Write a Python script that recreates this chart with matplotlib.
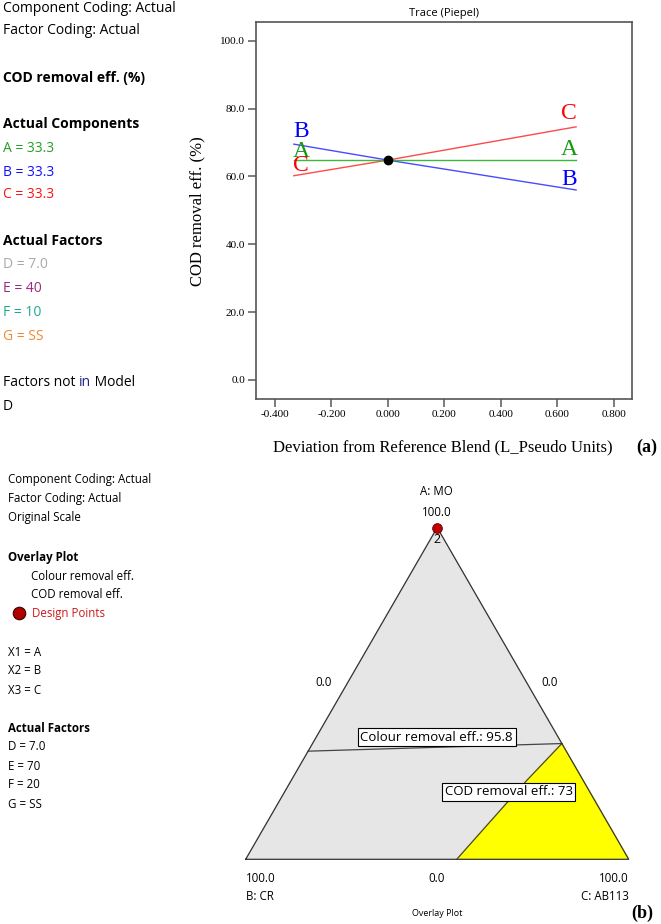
import numpy as np
import matplotlib
matplotlib.use("Agg")
import matplotlib.pyplot as plt

# ---- data ----
dev_x = [-0.333, 0.0, 0.667]
trace_A = [64.7, 64.7, 64.7]
trace_B = [69.5, 64.8, 56.0]
trace_C = [60.2, 64.8, 74.6]
ref_blend = [0.0, 64.8]
y_ticks = [0.0, 20.0, 40.0, 60.0, 80.0, 100.0]
x_ticks = [-0.4, -0.2, 0.0, 0.2, 0.4, 0.6, 0.8]

# ternary contours (fractions of A, B, C)
colour_A = [0.326, 0.349]
colour_B = [0.674, 0.0]
colour_C = [0.0, 0.651]
cod_A = [0.0, 0.238, 0.349]
cod_B = [0.449, 0.147, 0.0]
cod_C = [0.551, 0.615, 0.651]
design_pts = [[1.0, 0.0, 0.0]]
design_counts = ["2"]

W, H = 661, 924
fig = plt.figure(figsize=(W / 100, H / 100), dpi=100)
SANS = ["Open Sans", "DejaVu Sans"]
SERIF = "Liberation Serif"


def ftext(x, y, s, **kw):
    kw.setdefault("va", "center")
    kw.setdefault("family", SANS)
    return fig.text(x / W, 1 - y / H, s, **kw)


# ---------------- panel (a) ----------------
fs = 10
ftext(3, 8, "Component Coding: Actual", fontsize=fs)
ftext(3, 31, "Factor Coding: Actual", fontsize=fs)
ftext(3, 78, "COD removal eff. (%)", fontsize=fs, weight="bold")
ftext(3, 124, "Actual Components", fontsize=fs, weight="bold")
ftext(3, 148, "A = 33.3", fontsize=fs, color="#22a022")
ftext(3, 172, "B = 33.3", fontsize=fs, color="#1010ff")
ftext(3, 195, "C = 33.3", fontsize=fs, color="#ff1010")
ftext(3, 241, "Actual Factors", fontsize=fs, weight="bold")
ftext(3, 265, "D = 7.0", fontsize=fs, color="#a8a8a8")
ftext(3, 288, "E = 40", fontsize=fs, color="#9a2a7a")
ftext(3, 312, "F = 10", fontsize=fs, color="#20a890")
ftext(3, 336, "G = SS", fontsize=fs, color="#f08a30")
t1 = ftext(3, 382, "Factors not ", fontsize=fs)
fig.canvas.draw()
bb = t1.get_window_extent()
t2 = fig.text(bb.x1 / W, 1 - 382 / H, "in", fontsize=fs, va="center",
              family=SANS, color="#20208a")
bb2 = t2.get_window_extent(renderer=fig.canvas.get_renderer())
fig.text(bb2.x1 / W, 1 - 382 / H, " Model", fontsize=fs, va="center", family=SANS)
ftext(3, 406, "D", fontsize=fs)

ax = fig.add_axes([256 / W, 1 - 399 / H, (632 - 256) / W, (399 - 22) / H])
ax.plot(dev_x, trace_B, color="#4a4aff", lw=1.0)
ax.plot(dev_x, trace_C, color="#ff4a4a", lw=1.0)
ax.plot(dev_x, trace_A, color="#3cb83c", lw=1.0)
ax.plot(ref_blend[0], ref_blend[1], "o", color="black", ms=6, zorder=5)
lab = dict(fontsize=17, family=SERIF, ha="center", va="center")
ax.text(-0.308, 73.2, "B", color="#0000ff", **lab)
ax.text(-0.308, 67.4, "A", color="#119911", **lab)
ax.text(-0.308, 63.2, "C", color="#ff0000", **lab)
ax.text(0.641, 78.4, "C", color="#ff0000", **lab)
ax.text(0.641, 67.9, "A", color="#119911", **lab)
ax.text(0.641, 59.0, "B", color="#0000ff", **lab)

ax.set_xlim(-0.467, 0.865)
ax.set_ylim(-5.6, 105.5)
ax.set_xticks(x_ticks)
ax.set_xticklabels([f"{v:.3f}" for v in x_ticks], family=SERIF, fontsize=8)
ax.set_yticks(y_ticks)
ax.set_yticklabels([f"{v:.1f}" for v in y_ticks], family=SERIF, fontsize=8)
ax.tick_params(direction="out", length=6, width=1.2, color="#666666", pad=2)
for sp in ax.spines.values():
    sp.set_color("#555555")
    sp.set_linewidth(1.2)
ax.set_title("Trace (Piepel)", family=SANS, fontsize=8, pad=4)
ftext(197, 211, "COD removal eff. (%)", family=SERIF, fontsize=12,
      rotation=90, ha="center")
ftext(443, 447, "Deviation from Reference Blend (L_Pseudo Units)",
      family=SERIF, fontsize=12, ha="center")
ftext(647, 447, "(a)", family=SERIF, fontsize=13, weight="bold", ha="center")

# ---------------- panel (b) ----------------
fs2 = 8.3
ftext(8, 480, "Component Coding: Actual", fontsize=fs2)
ftext(8, 499, "Factor Coding: Actual", fontsize=fs2)
ftext(8, 518, "Original Scale", fontsize=fs2)
ftext(8, 557, "Overlay Plot", fontsize=fs2, weight="bold")
ftext(31, 576, "Colour removal eff.", fontsize=fs2)
ftext(31, 595, "COD removal eff.", fontsize=fs2)
ftext(32, 614, "Design Points", fontsize=fs2, color="#cc1a1a")
fig.lines.append(plt.Line2D([19 / W], [1 - 613 / H], marker="o", ms=9,
                            color="#b00000", mec="#400000", mew=0.8,
                            transform=fig.transFigure))
ftext(8, 652, "X1 = A", fontsize=fs2)
ftext(8, 671, "X2 = B", fontsize=fs2)
ftext(8, 690, "X3 = C", fontsize=fs2)
ftext(8, 728, "Actual Factors", fontsize=fs2, weight="bold")
ftext(8, 747, "D = 7.0", fontsize=fs2)
ftext(8, 766, "E = 70", fontsize=fs2)
ftext(8, 785, "F = 20", fontsize=fs2)
ftext(8, 804, "G = SS", fontsize=fs2)

S3 = np.sqrt(3) / 2


def tern(a, b, c):
    a, b, c = np.asarray(a), np.asarray(b), np.asarray(c)
    return c + a / 2, a * S3


tx0, ty0, tw = 245.7, 859.3, 383.0
ax2 = fig.add_axes([tx0 / W, 1 - ty0 / H, tw / W, tw * S3 / H])
ax2.set_xlim(0, 1)
ax2.set_ylim(0, S3)
ax2.axis("off")

tri = np.array([[0, 0], [1, 0], [0.5, S3]])
ax2.fill(tri[:, 0], tri[:, 1], color="#e6e6e6", zorder=1)
cx, cy = tern(cod_A, cod_B, cod_C)
yx = np.concatenate([cx, [1.0]])
yy = np.concatenate([cy, [0.0]])
ax2.fill(yx, yy, color="#ffff00", zorder=2)
ax2.plot(cx, cy, color="#444444", lw=0.9, zorder=3)
lx, ly = tern(colour_A, colour_B, colour_C)
ax2.plot(lx, ly, color="#444444", lw=0.9, zorder=3)
ax2.plot(np.append(tri[:, 0], 0), np.append(tri[:, 1], 0), color="#333333",
         lw=0.9, zorder=4, clip_on=False)

for p, n in zip(design_pts, design_counts):
    px, py = tern(*p)
    ax2.plot(px, py, "o", ms=7, color="#c00000", mec="#600000", mew=0.6,
             zorder=6, clip_on=False)
    ax2.text(px, py - 0.03, n, ha="center", va="center", fontsize=9,
             family=SANS, zorder=6)

box = dict(boxstyle="square,pad=0.2", fc="white", ec="black", lw=0.8)
ax2.text(0.4987, 0.3193, "Colour removal eff.: 95.8", ha="center",
         va="center", fontsize=9.5, family=SANS, bbox=box, zorder=7)
ax2.text(0.6867, 0.1765, "COD removal eff.: 73", ha="center",
         va="center", fontsize=9.5, family=SANS, bbox=box, zorder=7)

ftext(436.7, 492, "A: MO", fontsize=fs2, ha="center")
ftext(436.7, 512, "100.0", fontsize=fs2, ha="center")
ftext(323.3, 682, "0.0", fontsize=fs2, ha="center")
ftext(550, 682, "0.0", fontsize=fs2, ha="center")
ftext(245.7, 878, "100.0", fontsize=fs2, ha="left")
ftext(245.7, 896, "B: CR", fontsize=fs2, ha="left")
ftext(436.7, 878, "0.0", fontsize=fs2, ha="center")
ftext(628.7, 878, "100.0", fontsize=fs2, ha="right")
ftext(628.7, 896, "C: AB113", fontsize=fs2, ha="right")
ftext(436.7, 914, "Overlay Plot", fontsize=6.5, ha="center")
ftext(642, 913, "(b)", family=SERIF, fontsize=13, weight="bold", ha="center")

fig.savefig("out.png", dpi=100)
